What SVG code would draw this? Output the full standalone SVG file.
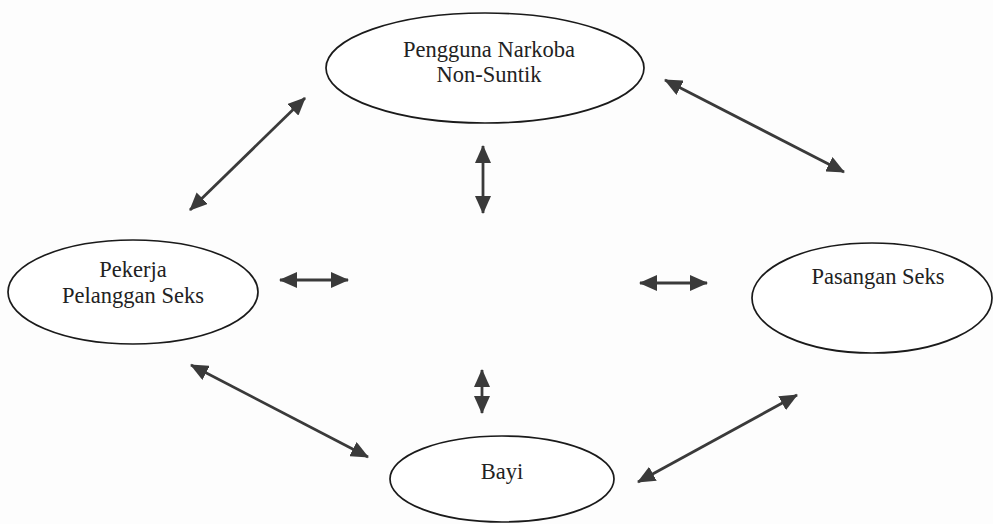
<svg xmlns="http://www.w3.org/2000/svg" width="993" height="524" viewBox="0 0 993 524">
<style>
.node ellipse{fill:#ffffff;stroke:#1a1a1a;stroke-width:1.7}
.node text{font-family:"Liberation Serif","Times New Roman",serif;font-size:22.5px;fill:#222222;text-anchor:middle}
.conn line{stroke:#3a3a3a;stroke-width:2.8;marker-start:url(#ah);marker-end:url(#ah)}
</style>
<defs>
<marker id="ah" viewBox="0 0 18 16" refX="17" refY="8" markerWidth="18" markerHeight="16" markerUnits="userSpaceOnUse" orient="auto-start-reverse">
<path d="M0,0 L18,8 L0,16 Z" fill="#3a3a3a"/>
</marker>
</defs>
<rect width="993" height="524" fill="#fdfdfd"/>
<g id="n-pengguna" class="node">
<ellipse cx="485" cy="68" rx="159" ry="55"/>
<text x="489" y="57">Pengguna Narkoba</text>
<text x="489" y="82">Non-Suntik</text>
</g>
<g id="n-pekerja" class="node">
<ellipse cx="133" cy="292" rx="125" ry="52"/>
<text x="133" y="277">Pekerja</text>
<text x="133" y="303">Pelanggan Seks</text>
</g>
<g id="n-pasangan" class="node">
<ellipse cx="872" cy="298" rx="120" ry="55"/>
<text x="878" y="284">Pasangan Seks</text>
</g>
<g id="n-bayi" class="node">
<ellipse cx="502" cy="479" rx="112" ry="43"/>
<text x="502" y="479">Bayi</text>
</g>
<g id="connectors" class="conn">
<line x1="190" y1="210" x2="305" y2="98"/>
<line x1="665" y1="80" x2="844" y2="172"/>
<line x1="483" y1="146" x2="483" y2="213"/>
<line x1="280" y1="280" x2="348" y2="280"/>
<line x1="640" y1="283" x2="707" y2="283"/>
<line x1="482" y1="370" x2="482" y2="413"/>
<line x1="191" y1="365" x2="368" y2="457"/>
<line x1="638" y1="482" x2="797" y2="395"/>
</g>
</svg>
